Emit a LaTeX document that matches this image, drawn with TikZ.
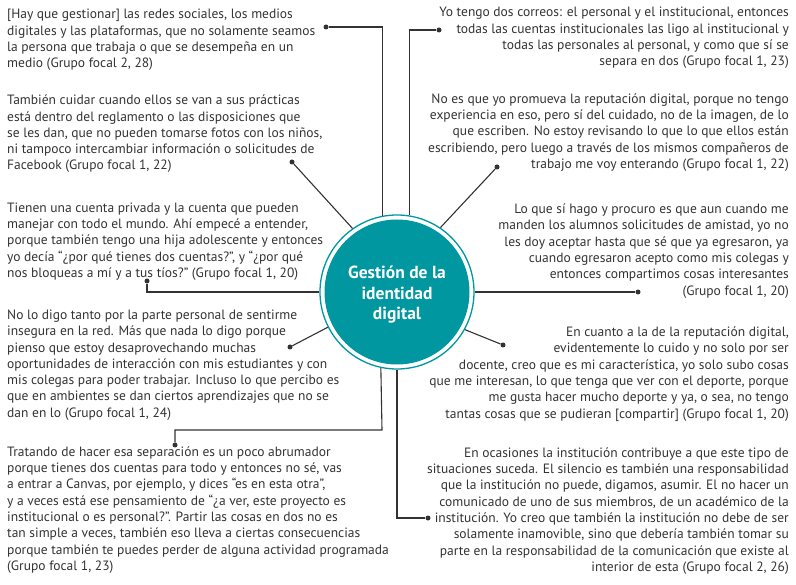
\documentclass[tikz,border=0pt]{standalone}
\usepackage{fontspec}
\setmainfont{PT Sans}
\definecolor{hubteal}{HTML}{0097A1}
\definecolor{txtgray}{HTML}{333333}
\begin{document}
\begin{tikzpicture}[x=1pt,y=-1pt,
  quote/.style={inner sep=0pt, text=txtgray, font=\fontsize{13.5}{16.3}\selectfont},
  ql/.style={quote, anchor=west, align=left},
  qr/.style={quote, anchor=east, align=right},
  dotn/.style={circle, fill=txtgray, inner sep=0pt, minimum size=5pt},
  conn/.style={draw=txtgray, line width=1.1pt},
]
\useasboundingbox (0,0) rectangle (796,585);

% hub
\node[circle, fill=hubteal, minimum size=145pt, inner sep=0pt] (hub) at (397,292) {};
\node[circle, draw=hubteal, line width=1.3pt, minimum size=154pt, inner sep=0pt] (ring) at (397,292) {};
\node[text=white, font=\bfseries\fontsize{17.5}{20.5}\selectfont, align=center, inner sep=0pt] (title) at (397,295) {Gestión de la\\identidad\\digital};

% quotes
\node[ql] (q1) at (7,40) {[Hay que gestionar] las redes sociales, los medios\\
digitales y las plataformas, que no solamente seamos\\
la persona que trabaja o que se desempeña en un\\
medio (Grupo focal 2, 28)};

\node[qr] (q2) at (789,38) {Yo tengo dos correos: el personal y el institucional, entonces\\
todas las cuentas institucionales las ligo al institucional y\\
todas las personales al personal, y como que sí se\\
separa en dos (Grupo focal 1, 23)};

\node[ql] (q3) at (7,134) {También cuidar cuando ellos se van a sus prácticas\\
está dentro del reglamento o las disposiciones que\\
se les dan, que no pueden tomarse fotos con los niños,\\
ni tampoco intercambiar información o solicitudes de\\
Facebook (Grupo focal 1, 22)};

\node[qr] (q4) at (789,132.5) {No es que yo promueva la reputación digital, porque no tengo\\
experiencia en eso, pero sí del cuidado, no de la imagen, de lo\\
que escriben. No estoy revisando lo que lo que ellos están\\
escribiendo, pero luego a través de los mismos compañeros de\\
trabajo me voy enterando (Grupo focal 1, 22)};

\node[ql] (q5) at (7,241.5) {Tienen una cuenta privada y la cuenta que pueden\\
manejar con todo el mundo. Ahí empecé a entender,\\
porque también tengo una hija adolescente y entonces\\
yo decía “¿por qué tienes dos cuentas?", y “¿por qué\\
nos bloqueas a mí y a tus tíos?" (Grupo focal 1, 20)};

\node[qr] (q6) at (789,251) {Lo que sí hago y procuro es que aun cuando me\\
manden los alumnos solicitudes de amistad, yo no\\
les doy aceptar hasta que sé que ya egresaron, ya\\
cuando egresaron acepto como mis colegas y\\
entonces compartimos cosas interesantes\\
(Grupo focal 1, 20)};

\node[ql] (q7) at (7,365) {No lo digo tanto por la parte personal de sentirme\\
insegura en la red. Más que nada lo digo porque\\
pienso que estoy desaprovechando muchas\\
oportunidades de interacción con mis estudiantes y con\\
mis colegas para poder trabajar. Incluso lo que percibo es\\
que en ambientes se dan ciertos aprendizajes que no se\\
dan en lo (Grupo focal 1, 24)};

\node[qr] (q8) at (789,374) {En cuanto a la de la reputación digital,\\
evidentemente lo cuido y no solo por ser\\
docente, creo que es mi característica, yo solo subo cosas\\
que me interesan, lo que tenga que ver con el deporte, porque\\
me gusta hacer mucho deporte y ya, o sea, no tengo\\
tantas cosas que se pudieran [compartir] (Grupo focal 1, 20)};

\node[ql] (q9) at (7,510) {Tratando de hacer esa separación es un poco abrumador\\
porque tienes dos cuentas para todo y entonces no sé, vas\\
a entrar a Canvas, por ejemplo, y dices “es en esta otra",\\
y a veces está ese pensamiento de “¿a ver, este proyecto es\\
institucional o es personal?". Partir las cosas en dos no es\\
tan simple a veces, también eso lleva a ciertas consecuencias\\
porque también te puedes perder de alguna actividad programada\\
(Grupo focal 1, 23)};

\node[qr] (q10) at (789,511) {En ocasiones la institución contribuye a que este tipo de\\
situaciones suceda. El silencio es también una responsabilidad\\
que la institución no puede, digamos, asumir. El no hacer un\\
comunicado de uno de sus miembros, de un académico de la\\
institución. Yo creo que también la institución no debe de ser\\
solamente inamovible, sino que debería también tomar su\\
parte en la responsabilidad de la comunicación que existe al\\
interior de esta (Grupo focal 2, 26)};

% dots
\node[dotn] (d1) at (326,27) {};
\node[dotn] (d2) at (439,30) {};
\node[dotn] (d3) at (292,162) {};
\node[dotn] (d4) at (497,167) {};
\node[dotn] (d5) at (147,281) {};
\node[dotn] (d6) at (638,292) {};
\node[dotn] (d7) at (290,347) {};
\node[dotn] (d8) at (503,345) {};
\node[dotn] (d9) at (175,445) {};
\node[dotn] (d10) at (428,518) {};
\coordinate (k9) at (382,430);

% connectors
\draw[conn] (d1) -| (ring.101.2);
\draw[conn] (d2) -| (ring.81.8);
\draw[conn] (d3) -- (ring.125.5);
\draw[conn] (d4) -- (ring.56);
\draw[conn] (d5) |- (ring.180);
\draw[conn] (d6) -- (ring.0);
\draw[conn] (d7) -- (ring.207.5);
\draw[conn] (d8) -- (ring.331.4);
\draw[conn] (d9) |- (k9) -- (ring.258.8);
\draw[conn] (ring.270.7) |- (d10);
\end{tikzpicture}
\end{document}
